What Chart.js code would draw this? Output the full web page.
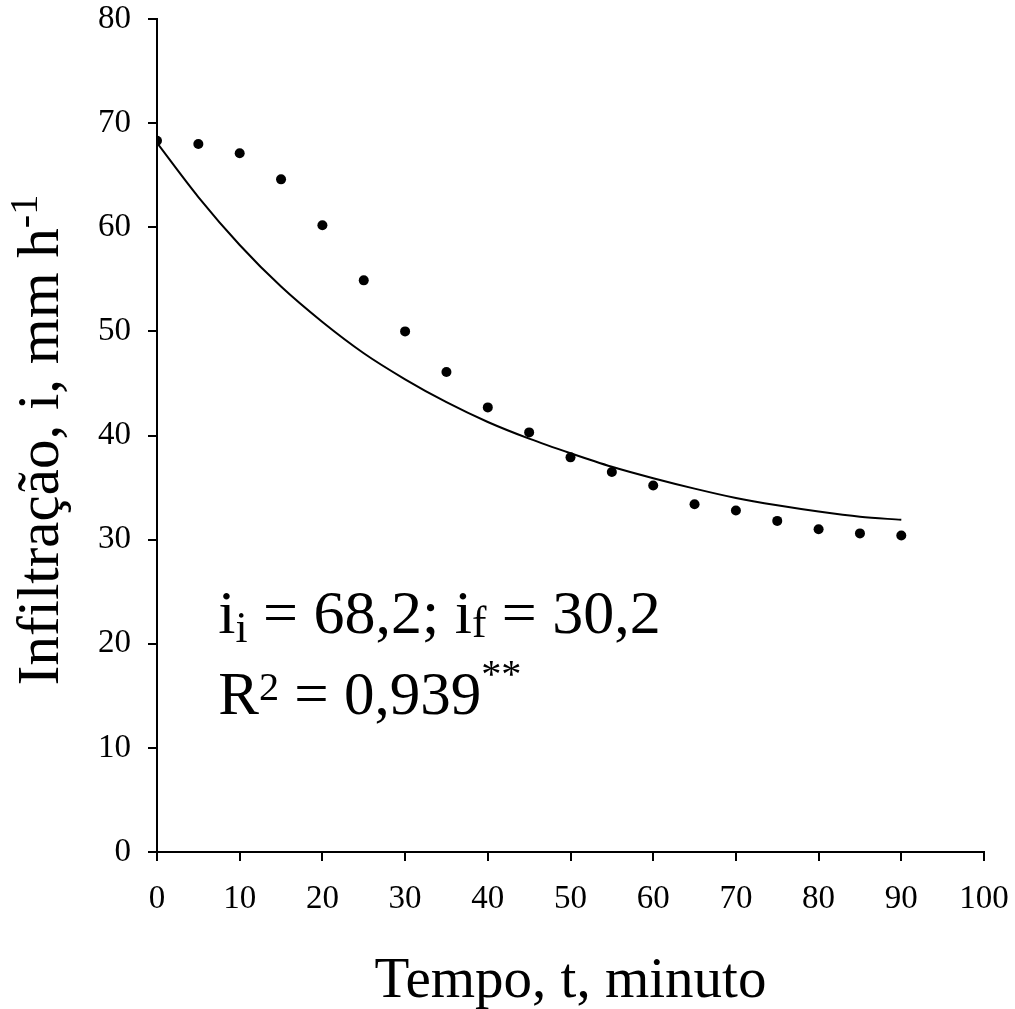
<!DOCTYPE html>
<html>
<head>
<meta charset="utf-8">
<script src="https://cdn.jsdelivr.net/npm/chart.js@4/dist/chart.umd.min.js"></script>
<style>
  body { margin: 0; background: #fff; }
  #wrap { width: 1015px; height: 1009px; position: relative; }
</style>
</head>
<body>
<div id="wrap"><canvas id="chart-area"></canvas></div>
<script>
// minutes of the test
var tempo = [0, 5, 10, 15, 20, 25, 30, 35, 40, 45, 50, 55, 60, 65, 70, 75, 80, 85, 90];
// observed infiltration rate, mm/h
var observado = [68.3, 68.0, 67.1, 64.6, 60.2, 54.9, 50.0, 46.1, 42.7, 40.3, 37.9, 36.5, 35.2, 33.4, 32.8, 31.8, 31.0, 30.6, 30.4];
// fitted curve
var ajustado = [68.1, 62.9, 58.3, 54.3, 50.9, 47.9, 45.4, 43.2, 41.3, 39.7, 38.3, 37.0, 35.9, 34.9, 34.0, 33.3, 32.7, 32.2, 31.9];
var xTicks = [0, 10, 20, 30, 40, 50, 60, 70, 80, 90, 100];
var yTicks = [0, 10, 20, 30, 40, 50, 60, 70, 80];

var FONT = "'Liberation Serif', 'Times New Roman', serif";

function toPoints(xs, ys) {
  var pts = [];
  for (var i = 0; i < xs.length; i++) {
    pts.push({ x: xs[i], y: ys[i] });
  }
  return pts;
}

// draw a row of text pieces, each with its own size and vertical shift
function drawRuns(ctx, runs, x, y, size) {
  var cx = x;
  runs.forEach(function (r) {
    var s = size * (r.scale || 1);
    ctx.font = s + "px " + FONT;
    ctx.fillText(r.t, cx, y + (r.dy || 0));
    cx += ctx.measureText(r.t).width;
  });
  return cx;
}

var textPlugin = {
  id: "textos",
  afterDraw: function (chart) {
    var ctx = chart.ctx;
    var area = chart.chartArea;
    var xs = chart.scales.x;
    var ys = chart.scales.y;
    ctx.save();
    ctx.fillStyle = "#000";
    ctx.textBaseline = "alphabetic";
    ctx.textAlign = "left";

    // x axis title
    ctx.font = "57px " + FONT;
    var xt = "Tempo, t, minuto";
    var w = ctx.measureText(xt).width;
    ctx.fillText(xt, (area.left + area.right) / 2 - w / 2, 997);

    // y axis title with superscript
    var yRuns = [
      { t: "Infiltração, i, mm h" },
      { t: "-1", scale: 0.68, dy: -21 }
    ];
    var total = 0;
    yRuns.forEach(function (r) {
      ctx.font = 59 * (r.scale || 1) + "px " + FONT;
      total += ctx.measureText(r.t).width;
    });
    ctx.save();
    ctx.translate(58, 440);
    ctx.rotate(-Math.PI / 2);
    drawRuns(ctx, yRuns, -total / 2, 0, 59);
    ctx.restore();

    // equation text
    var ax = xs.getPixelForValue(7.4);
    var l1 = ys.getPixelForValue(21);
    var l2 = ys.getPixelForValue(13.3);
    drawRuns(ctx, [
      { t: "i" },
      { t: "i", scale: 0.7, dy: 9 },
      { t: " = 68,2; i" },
      { t: "f", scale: 0.7, dy: 4 },
      { t: " = 30,2" }
    ], ax, l1, 62);
    drawRuns(ctx, [
      { t: "R" },
      { t: "2", scale: 0.66, dy: -14 },
      { t: " = 0,939" },
      { t: "**", scale: 0.66, dy: -27 }
    ], ax, l2, 61);
    ctx.restore();
  }
};

var config = {
  type: "scatter",
  data: {
    datasets: [
      {
        type: "line",
        label: "ajustado",
        data: toPoints(tempo, ajustado),
        borderColor: "#000",
        borderWidth: 2,
        pointRadius: 0,
        cubicInterpolationMode: "monotone",
        fill: false,
      },
      {
        label: "observado",
        data: toPoints(tempo, observado),
        backgroundColor: "#000",
        borderWidth: 0,
        pointRadius: 5,
        showLine: false,
      },
    ],
  },
  options: {
    responsive: true,
    maintainAspectRatio: false,
    animation: false,
    layout: {
      autoPadding: false,
      padding: { left: 0, top: 19, right: 31, bottom: 0 },
    },
    plugins: {
      legend: { display: false },
      tooltip: { enabled: false },
    },
    scales: {
      x: {
        type: "linear",
        min: 0,
        max: 100,
        afterBuildTicks: function (s) {
          s.ticks = xTicks.map(function (v) { return { value: v }; });
        },
        afterFit: function (s) {
          s.height = 157;
          s.paddingLeft = 0;
          s.paddingRight = 0;
        },
        ticks: {
          font: { family: FONT, size: 33 },
          color: "#000",
          padding: 19,
          maxRotation: 0,
        },
        grid: {
          drawOnChartArea: false,
          color: "#000",
          lineWidth: 2,
          tickLength: 9,
        },
        border: { color: "#000", width: 2 },
      },
      y: {
        min: 0,
        max: 80,
        afterBuildTicks: function (s) {
          s.ticks = yTicks.map(function (v) { return { value: v }; });
        },
        afterFit: function (s) {
          s.width = 157;
          s.paddingTop = 0;
          s.paddingBottom = 0;
        },
        ticks: {
          font: { family: FONT, size: 33 },
          color: "#000",
          padding: 17,
        },
        grid: {
          drawOnChartArea: false,
          color: "#000",
          lineWidth: 2,
          tickLength: 9,
        },
        border: { color: "#000", width: 2 },
      },
    },
  },
  plugins: [textPlugin],
};

var ctx = document.getElementById("chart-area").getContext("2d");
window.chart = new Chart(ctx, config);
</script>
</body>
</html>
